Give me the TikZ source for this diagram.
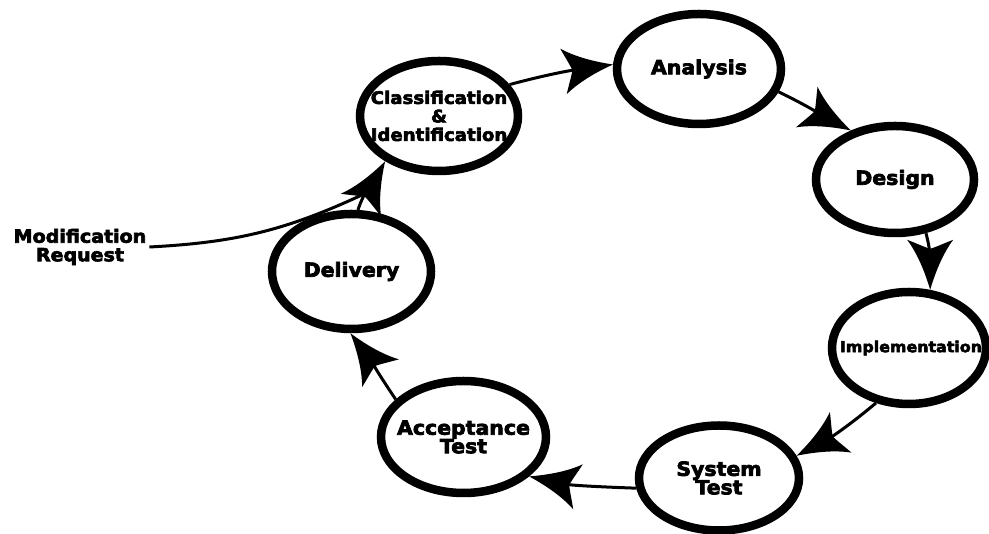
\documentclass[tikz,border=0pt]{standalone}
\usepackage{fontspec}
\newfontfamily\lblfont{DejaVu Sans}[FakeStretch=1.05, BoldFeatures={FakeBold=3.5}]
\usetikzlibrary{shapes.geometric,arrows.meta}
\newcommand\lblsz[2]{\fontsize{#1bp}{#2bp}\selectfont}
\pgfdeclarearrow{
  name=Flare,
  parameters={\the\pgfarrowlength},
  setup code={
    \pgfarrowssettipend{0bp}
    \pgfarrowssetlineend{-38bp}
    \pgfarrowssetbackend{-50bp}
    \pgfarrowssetvisualbackend{-41bp}
    \pgfarrowshullpoint{0bp}{0bp}
    \pgfarrowshullpoint{-50bp}{23bp}
    \pgfarrowshullpoint{-50bp}{-23bp}
  },
  drawing code={
    \pgfpathmoveto{\pgfpoint{0bp}{0bp}}
    \pgfpathcurveto{\pgfpoint{-17bp}{5bp}}{\pgfpoint{-36bp}{12.5bp}}{\pgfpoint{-50bp}{23bp}}
    \pgfpathcurveto{\pgfpoint{-47bp}{15bp}}{\pgfpoint{-43bp}{6.5bp}}{\pgfpoint{-41bp}{0bp}}
    \pgfpathcurveto{\pgfpoint{-43bp}{-6.5bp}}{\pgfpoint{-47bp}{-15bp}}{\pgfpoint{-50bp}{-23bp}}
    \pgfpathcurveto{\pgfpoint{-36bp}{-12.5bp}}{\pgfpoint{-17bp}{-5bp}}{\pgfpoint{0bp}{0bp}}
    \pgfpathclose
    \pgfusepathqfill
  },
  defaults={length=50bp}
}
\begin{document}
\begin{tikzpicture}[x=1bp,y=1bp,
  phase/.style={ellipse, draw, line width=8.5bp, inner sep=0pt},
  txt/.style={align=center, inner sep=0pt, font=\lblfont\bfseries\lblsz{19.5}{18.5}},
  conn/.style={line width=3bp, -{Flare}},
  plain/.style={line width=3bp}]
\useasboundingbox (0,0) rectangle (989,534);
\fill[white] (0,0) rectangle (989,534);

\node[phase, minimum width=158bp, minimum height=110bp,
  label={[txt, font=\lblfont\bfseries\lblsz{17.3}{18.5}]center:{Classification\\\&\\Identification}}] (cls) at (439,418) {};
\node[phase, minimum width=164bp, minimum height=110bp,
  label={[txt]center:{Analysis}}] (ana) at (699,465) {};
\node[phase, minimum width=158bp, minimum height=107bp,
  label={[txt]center:{Design}}] (des) at (895,354.5) {};
\node[phase, minimum width=154bp, minimum height=112bp,
  label={[txt, font=\lblfont\bfseries\lblsz{15.1}{17}, xshift=2bp]center:{Implementation}}] (imp) at (909,186) {};
\node[phase, minimum width=160bp, minimum height=105bp,
  label={[txt]center:{System\\Test}}] (sys) at (719,56) {};
\node[phase, minimum width=165bp, minimum height=112bp,
  label={[txt]center:{Acceptance\\Test}}] (acc) at (463.5,97) {};
\node[phase, minimum width=159bp, minimum height=115bp,
  label={[txt]center:{Delivery}}] (del) at (351.5,262.5) {};

\node[txt, font=\lblfont\bfseries\lblsz{18.1}{18.5}, inner sep=3bp] (mod) at (80,287) {Modification\\Request};
\coordinate (join) at (364,340);

\draw[conn] (cls.24) to[out=15,in=188] (ana.177);
\draw[conn] (ana.-16) to[out=-26,in=152] (des.132);
\draw[conn] (des.-60) to[out=-75,in=90] (imp.70);
\draw[conn] (imp.-121) to[out=-140,in=28] (sys.16);
\draw[conn] (sys.187) to[out=178,in=-12] (acc.-31);
\draw[conn] (acc.151) to[out=124,in=-53] (del.-91);
\draw[conn] (del.84) to[out=72,in=-119] (cls.-140);
\draw[plain] (mod.east) to[out=3,in=-155] (join);
\end{tikzpicture}
\end{document}
